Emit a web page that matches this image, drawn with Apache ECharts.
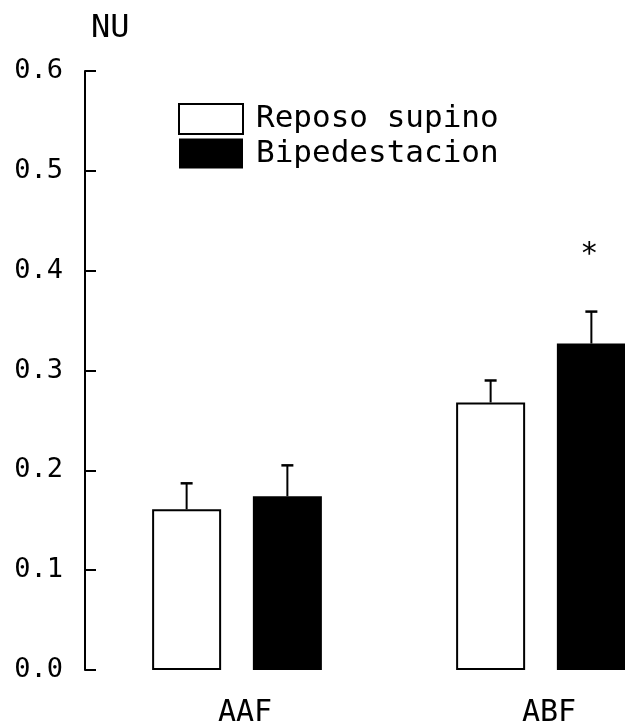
<!DOCTYPE html>
<html>
<head>
<meta charset="utf-8">
<script src="https://cdn.jsdelivr.net/npm/echarts@6/dist/echarts.min.js"></script>
<style>
html,body{margin:0;padding:0;background:#fff;}
#chart{width:625px;height:727px;}
</style>
</head>
<body>
<div id="chart"></div>
<script>
var categories = ['AAF', 'ABF'];
var supinoValues = [0.161, 0.268];
var supinoErrors = [0.026, 0.022];
var bipedValues = [0.174, 0.327];
var bipedErrors = [0.031, 0.032];
var bipedMarks = ['', '*'];
var yTicks = [0, 0.1, 0.2, 0.3, 0.4, 0.5, 0.6];

var FONT = 'DejaVu Sans Mono';
var BAR_W = 0.227;
var BAR_GAP = 0.46;

function errSeries(sign, values, errs, marks) {
  var data = values.map(function (v, i) { return [i, v, errs[i]]; });
  return {
    type: 'custom',
    z: 5,
    clip: false,
    data: data,
    renderItem: function (params, api) {
      var idx = api.value(0), val = api.value(1), err = api.value(2);
      var band = api.size([1, 0])[0];
      var bw = band * BAR_W;
      var off = sign * bw * (1 + BAR_GAP) / 2;
      var top = api.coord([idx, val]);
      var cap = api.coord([idx, val + err]);
      var x = top[0] + off;
      var children = [
        { type: 'line', shape: { x1: x, y1: top[1], x2: x, y2: cap[1] }, style: { stroke: '#000', lineWidth: 2 } },
        { type: 'line', shape: { x1: x - 6, y1: cap[1], x2: x + 6, y2: cap[1] }, style: { stroke: '#000', lineWidth: 2.5 } }
      ];
      var m = marks ? marks[params.dataIndex] : '';
      if (m) {
        children.push({ type: 'text', style: { text: m, x: x - 2, y: cap[1] - 56, fill: '#000', font: '30px ' + FONT, textAlign: 'center', textVerticalAlign: 'middle' } });
      }
      return { type: 'group', children: children };
    }
  };
}

var chart = echarts.init(document.getElementById('chart'), null, { renderer: 'canvas' });
chart.setOption({
  animation: false,
  backgroundColor: '#fff',
  grid: { left: 85, top: 71, bottom: 57, width: 608, containLabel: false, outerBoundsMode: 'none' },
  legend: {
    data: ['Reposo supino', 'Bipedestacion'],
    orient: 'vertical',
    left: 178, top: 103,
    padding: 0,
    itemWidth: 64, itemHeight: 30,
    itemGap: 3,
    icon: 'rect',
    selectedMode: false,
    textStyle: { fontFamily: FONT, fontSize: 31, color: '#000', padding: [0, 0, 0, 8] }
  },
  xAxis: {
    type: 'category',
    data: categories,
    axisLine: { show: false },
    axisTick: { show: false },
    axisLabel: { fontFamily: FONT, fontSize: 30, color: '#000', margin: 28, padding: [0, 0, 0, 16] }
  },
  yAxis: {
    type: 'value',
    min: 0, max: 0.6, interval: 0.1,
    name: 'NU',
    nameLocation: 'end',
    nameGap: 42,
    nameTextStyle: { fontFamily: FONT, fontSize: 32, color: '#000', align: 'left', verticalAlign: 'middle', padding: [0, 0, 0, 6] },
    axisLine: { show: true, lineStyle: { color: '#000', width: 2 } },
    axisTick: { show: true, inside: true, length: 11, lineStyle: { color: '#000', width: 2 } },
    splitLine: { show: false },
    axisLabel: {
      fontFamily: FONT, fontSize: 27, color: '#000', margin: 22,
      formatter: function (v) { return yTicks.indexOf(Math.round(v * 10) / 10) >= 0 ? v.toFixed(1) : ''; }
    }
  },
  series: [
    {
      name: 'Reposo supino', type: 'bar', data: supinoValues,
      barWidth: (BAR_W * 100) + '%', barGap: (BAR_GAP * 100) + '%',
      itemStyle: { color: '#fff', borderColor: '#000', borderWidth: 2 }
    },
    {
      name: 'Bipedestacion', type: 'bar', data: bipedValues,
      barWidth: (BAR_W * 100) + '%', barGap: (BAR_GAP * 100) + '%',
      itemStyle: { color: '#000', borderColor: '#000', borderWidth: 0 }
    },
    errSeries(-1, supinoValues, supinoErrors, null),
    errSeries(1, bipedValues, bipedErrors, bipedMarks)
  ]
});
</script>
</body>
</html>
